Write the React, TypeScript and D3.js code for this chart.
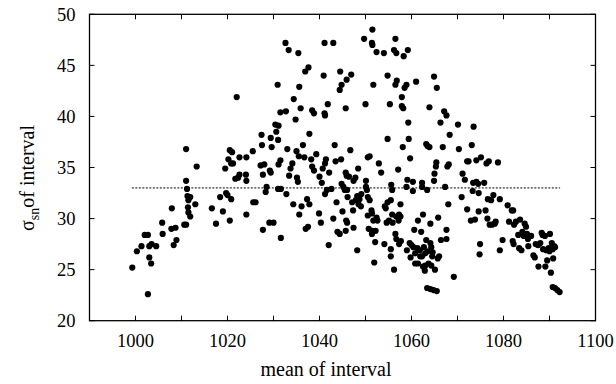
import React from "react";
import * as d3 from "d3";

const xTicks = [1000, 1020, 1040, 1060, 1080, 1100];
const xMinorTicks = [1000, 1010, 1020, 1030, 1040, 1050, 1060, 1070, 1080, 1090];
const yTicks = [20, 25, 30, 35, 40, 45, 50];
const meanLine = 33;
const meanLineRange = [999.2, 1092.3];

const points: [number, number][] = [
  [999.3, 25.2], [1000.3, 26.8], [1001.3, 27.3], [1002, 28.4], [1002.7, 28.4], [1002.7, 22.6],
  [1003, 26.2], [1003.4, 25.6], [1003, 27.3], [1003.5, 27.5], [1004.5, 27.3], [1005.9, 28.5],
  [1005.8, 29.6], [1007.9, 31.0], [1007.8, 29.0], [1008.3, 27.4], [1008.9, 27.9], [1008.7, 29.1],
  [1010.6, 29.4], [1011, 29.4], [1011, 36.8], [1011, 33.7], [1011.2, 32.9], [1011.3, 32.2],
  [1011.5, 31.8], [1011.9, 32.1], [1011.4, 31.1], [1011.5, 30.6], [1011.9, 30.2], [1013, 31.4],
  [1013.3, 35.1], [1016.6, 31.0], [1017.5, 29.5], [1018.4, 32.1], [1019, 30.7], [1019.5, 34.9],
  [1019.7, 32.5], [1020, 32.3], [1020.5, 29.8], [1020.8, 31.9], [1020.2, 35.8], [1020.5, 36.7],
  [1021, 36.5], [1020.8, 35.4], [1021.2, 35.4], [1022, 41.9], [1021.7, 33.9], [1022.3, 34.0],
  [1022.6, 34.3], [1022.6, 36.0], [1024.1, 36.0], [1024, 34.3], [1024.1, 33.7], [1024.1, 30.4],
  [1025.5, 36.6], [1025.6, 31.6], [1026.1, 31.6], [1027.4, 38.2], [1027.5, 37.2], [1027.2, 35.2],
  [1027.7, 28.9], [1027.7, 34.3], [1028, 35.3], [1028.3, 32.6], [1028.5, 33.1], [1029.2, 34.7],
  [1029.4, 34.5], [1029.4, 37.9], [1029.6, 37.0], [1029.1, 29.6], [1030, 29.6], [1030.4, 39.2],
  [1030.6, 38.5], [1031.1, 39.1], [1030.9, 43.1], [1031, 37.7], [1031.1, 35.3], [1031.5, 35.7],
  [1031, 32.9], [1031.6, 32.9], [1031.6, 28.1], [1031.5, 40.4], [1032.7, 40.5], [1032.6, 47.2],
  [1033.3, 46.5], [1032.8, 32.4], [1033, 36.8], [1033.4, 34.2], [1033.7, 34.9], [1034.1, 35.4],
  [1034.4, 41.7], [1034.3, 31.4], [1034.8, 39.7], [1035, 36.6], [1035.1, 34.0], [1035.3, 33.6],
  [1035.4, 46.2], [1035.6, 42.9], [1035.5, 36.1], [1035.6, 30.4], [1035.9, 40.8], [1036.1, 31.2],
  [1036.4, 37.2], [1036.7, 36.0], [1036.9, 44.4], [1037.3, 31.9], [1037.6, 44.8], [1037, 29.0],
  [1037.5, 29.2], [1037.8, 38.3], [1037.8, 31.4], [1038.2, 35.8], [1038.4, 40.6], [1038.8, 40.3],
  [1038.4, 35.1], [1038.8, 34.7], [1039.3, 36.3], [1039.9, 30.5], [1040.3, 29.6], [1040, 34.1],
  [1040.5, 33.5], [1040.7, 34.9], [1041.1, 47.2], [1040.9, 44.0], [1041.1, 40.3], [1041.2, 40.1],
  [1041.2, 35.4], [1041.4, 35.8], [1041.2, 32.4], [1041.6, 32.8], [1041.8, 41.2], [1042.1, 34.5],
  [1042, 27.4], [1043, 47.2], [1042.6, 32.9], [1043, 30.0], [1043.3, 37.2], [1043.5, 35.6],
  [1043.7, 31.6], [1043.9, 28.7], [1044.4, 28.5], [1044.5, 44.4], [1044.4, 42.6], [1044.8, 43.1],
  [1044.7, 35.8], [1044.8, 33.4], [1045.2, 33.1], [1045, 30.7], [1045.5, 32.8], [1045.7, 34.5],
  [1045.7, 40.8], [1045.9, 43.6], [1045.9, 34.2], [1046, 32.8], [1046.1, 32.1], [1045.8, 29.8],
  [1046, 29.6], [1045.7, 28.8], [1046.4, 34.1], [1046.7, 36.7], [1046.9, 44.1], [1047.1, 31.6],
  [1047.3, 30.8], [1047.4, 33.7], [1047.4, 29.1], [1047.8, 34.0], [1047.9, 31.8], [1048.2, 26.9],
  [1048.2, 32.2], [1048.4, 34.9], [1048.5, 31.4], [1048.7, 31.9], [1049, 31.2], [1049.1, 32.4],
  [1049.7, 47.6], [1050, 41.2], [1050.1, 33.7], [1050.1, 33.1], [1050.3, 32.8], [1050.5, 32.1],
  [1050.5, 36.0], [1050.9, 36.1], [1050.5, 30.3], [1050.7, 29.0], [1050.9, 31.8], [1051.3, 30.8],
  [1051.5, 48.5], [1051.4, 47.2], [1051.5, 47.0], [1051.7, 43.1], [1051.4, 30.5], [1051.4, 28.5],
  [1051.5, 28.8], [1051.7, 29.8], [1051.9, 25.7], [1052.1, 27.7], [1052.2, 28.8], [1052.4, 46.3],
  [1052.4, 30.1], [1052.6, 29.8], [1052.9, 35.4], [1053.4, 34.5], [1054, 46.2], [1054.1, 27.5],
  [1054.2, 31.2], [1054.4, 31.0], [1054.6, 29.6], [1054.8, 31.6], [1054.8, 37.8], [1054.8, 44.0],
  [1055.1, 29.8], [1055.3, 41.2], [1055.5, 31.8], [1055.5, 27.0], [1055.5, 26.3], [1055.6, 33.3],
  [1055.8, 32.8], [1055.9, 29.6], [1055.8, 30.4], [1056.2, 46.5], [1056.2, 25.0], [1056.5, 43.1],
  [1056.5, 47.6], [1056.5, 28.5], [1056.7, 46.2], [1056.7, 28.0], [1056.7, 30.2], [1056.8, 43.5],
  [1057.1, 34.8], [1057.2, 29.8], [1057.3, 27.5], [1057.3, 30.4], [1057.6, 31.4], [1057.6, 30.2],
  [1057.7, 27.8], [1057.9, 41.9], [1057.9, 41.0], [1058.2, 40.8], [1058.1, 37.0], [1058.3, 45.9],
  [1058.5, 42.8], [1058.9, 43.1], [1058.9, 33.1], [1059, 26.9], [1059.1, 33.8], [1059.2, 46.5],
  [1059.3, 39.4], [1059.4, 37.8], [1059.7, 35.9], [1059.6, 27.6], [1059.8, 26.2], [1060, 27.4],
  [1060.3, 33.6], [1060.3, 32.7], [1060.4, 27.2], [1060.8, 25.6], [1060.6, 28.9], [1060.8, 26.6],
  [1061, 43.4], [1061.3, 27.1], [1061.4, 29.8], [1061.4, 25.6], [1061.8, 26.9], [1061.9, 26.3],
  [1062.1, 28.7], [1062.3, 33.1], [1062.3, 33.5], [1062.3, 26.3], [1062.5, 25.3], [1062.5, 30.4],
  [1062.7, 27.2], [1062.9, 24.9], [1063, 25.4], [1063, 26.6], [1063.2, 27.9], [1063.4, 32.8],
  [1063.2, 37.3], [1063.4, 23.2], [1063.5, 37.1], [1063.5, 26.8], [1063.7, 25.6], [1063.9, 40.9],
  [1064.1, 27.6], [1064.1, 23.1], [1063.9, 37.0], [1064.1, 29.5], [1064.3, 25.4], [1064.3, 27.2],
  [1064.5, 26.3], [1064.6, 26.7], [1064.8, 23.0], [1064.9, 43.9], [1064.9, 33.7], [1065, 34.4],
  [1065.1, 25.0], [1065.3, 35.1], [1065.4, 35.5], [1065.5, 42.8], [1065.5, 22.9], [1065.7, 26.1],
  [1065.8, 30.1], [1066, 26.3], [1066.3, 39.4], [1066.4, 27.9], [1066.8, 37.0], [1067.1, 40.5],
  [1067.3, 33.1], [1067.6, 40.1], [1067.6, 28.0], [1067.6, 28.9], [1067.8, 35.1], [1068, 31.4],
  [1068.1, 35.3], [1068.3, 38.2], [1069.2, 24.3], [1070.1, 39.2], [1070.3, 36.8], [1070.9, 32.1],
  [1071.1, 34.4], [1071.6, 33.8], [1072.1, 30.9], [1072.1, 35.6], [1072.4, 35.6], [1072.9, 29.8],
  [1073.1, 37.2], [1073.3, 32.7], [1073.5, 39.0], [1073.4, 33.5], [1073.8, 29.9], [1074.1, 35.7],
  [1074.1, 33.6], [1074.5, 33.4], [1074.6, 32.5], [1074.6, 30.7], [1074.8, 26.5], [1074.9, 27.5],
  [1075.1, 36.0], [1075.8, 33.5], [1076.1, 30.8], [1076.3, 35.4], [1076.5, 30.0], [1076.6, 31.9],
  [1076.8, 35.6], [1077, 29.4], [1077.3, 31.8], [1077.5, 29.4], [1077.8, 32.3], [1078.1, 29.5],
  [1078.3, 29.7], [1078.8, 35.5], [1079.2, 31.9], [1079.2, 26.9], [1079.8, 27.9], [1080.9, 31.3],
  [1081.2, 29.7], [1081.8, 30.8], [1082, 27.8], [1082.1, 30.8], [1082.3, 29.4], [1082.2, 27.5],
  [1082.7, 29.7], [1083.2, 28.4], [1083.6, 29.9], [1083.4, 27.1], [1083.9, 26.9], [1084.1, 28.7],
  [1084.4, 28.3], [1084.6, 29.5], [1084.9, 29.2], [1085.1, 28.5], [1085.3, 28.0], [1085.4, 27.3],
  [1086, 28.3], [1086.5, 26.4], [1086.8, 26.2], [1087, 27.5], [1087.5, 27.4], [1087.6, 25.3],
  [1088, 27.6], [1088.3, 28.6], [1088.5, 28.4], [1088.6, 27.0], [1089, 28.3], [1089.1, 25.3],
  [1089.3, 26.9], [1089.5, 25.9], [1089.8, 27.1], [1090, 26.8], [1090.1, 28.5], [1090.3, 24.7],
  [1090.5, 27.6], [1090.7, 27.0], [1090.8, 26.1], [1091, 27.3], [1091.2, 27.2], [1090.7, 23.3],
  [1091.2, 23.2], [1091.7, 23.0], [1092.2, 22.8],
];

const W = 616;
const H = 384;
const left = 89.5;
const right = 595.5;
const top = 14.3;
const bottom = 320.7;
const tick = 5;
const font = "'Liberation Serif', 'Times New Roman', serif";

export default function App() {
  const x = d3.scaleLinear().domain([990, 1100]).range([left, right]);
  const y = d3.scaleLinear().domain([20, 50]).range([bottom, top]);

  return (
    <svg
      width={W}
      height={H}
      style={{ position: "absolute", left: 0, top: 0, background: "#fff" }}
      fontFamily={font}
    >
      <rect x={0} y={0} width={W} height={H} fill="#fff" />
      <line
        x1={x(meanLineRange[0])}
        x2={x(meanLineRange[1])}
        y1={y(meanLine)}
        y2={y(meanLine)}
        stroke="#000"
        strokeWidth={1}
        strokeDasharray="2,1.5"
      />
      {points.map(([px, py], i) => (
        <circle key={i} cx={x(px)} cy={y(py)} r={3.1} fill="#000" />
      ))}
      <rect
        x={left}
        y={top}
        width={right - left}
        height={bottom - top}
        fill="none"
        stroke="#000"
        strokeWidth={1.3}
      />
      {xMinorTicks.map((t) => (
        <g key={"xt" + t}>
          <line x1={x(t)} x2={x(t)} y1={bottom} y2={bottom - tick} stroke="#000" strokeWidth={1} />
          <line x1={x(t)} x2={x(t)} y1={top} y2={top + tick} stroke="#000" strokeWidth={1} />
        </g>
      ))}
      {xTicks.map((t) => (
        <text key={"xl" + t} x={x(t)} y={347.3} textAnchor="middle" fontSize={18.5} fill="#000">
          {t}
        </text>
      ))}
      {yTicks.map((t) => (
        <g key={"yt" + t}>
          <line x1={left} x2={left + tick} y1={y(t)} y2={y(t)} stroke="#000" strokeWidth={1} />
          <line x1={right} x2={right - tick} y1={y(t)} y2={y(t)} stroke="#000" strokeWidth={1} />
          <text x={75.5} y={y(t) + 6.5} textAnchor="end" fontSize={18.5} fill="#000">
            {t}
          </text>
        </g>
      ))}
      <text x={326} y={376} textAnchor="middle" fontSize={20} fill="#000">
        mean of interval
      </text>
      <text
        transform={`translate(34, 178) rotate(-90)`}
        textAnchor="middle"
        fontSize={20}
        fill="#000"
      >
        σ
        <tspan fontSize={14} dy={5}>sn</tspan>
        <tspan dy={-5}>of interval</tspan>
      </text>
    </svg>
  );
}
